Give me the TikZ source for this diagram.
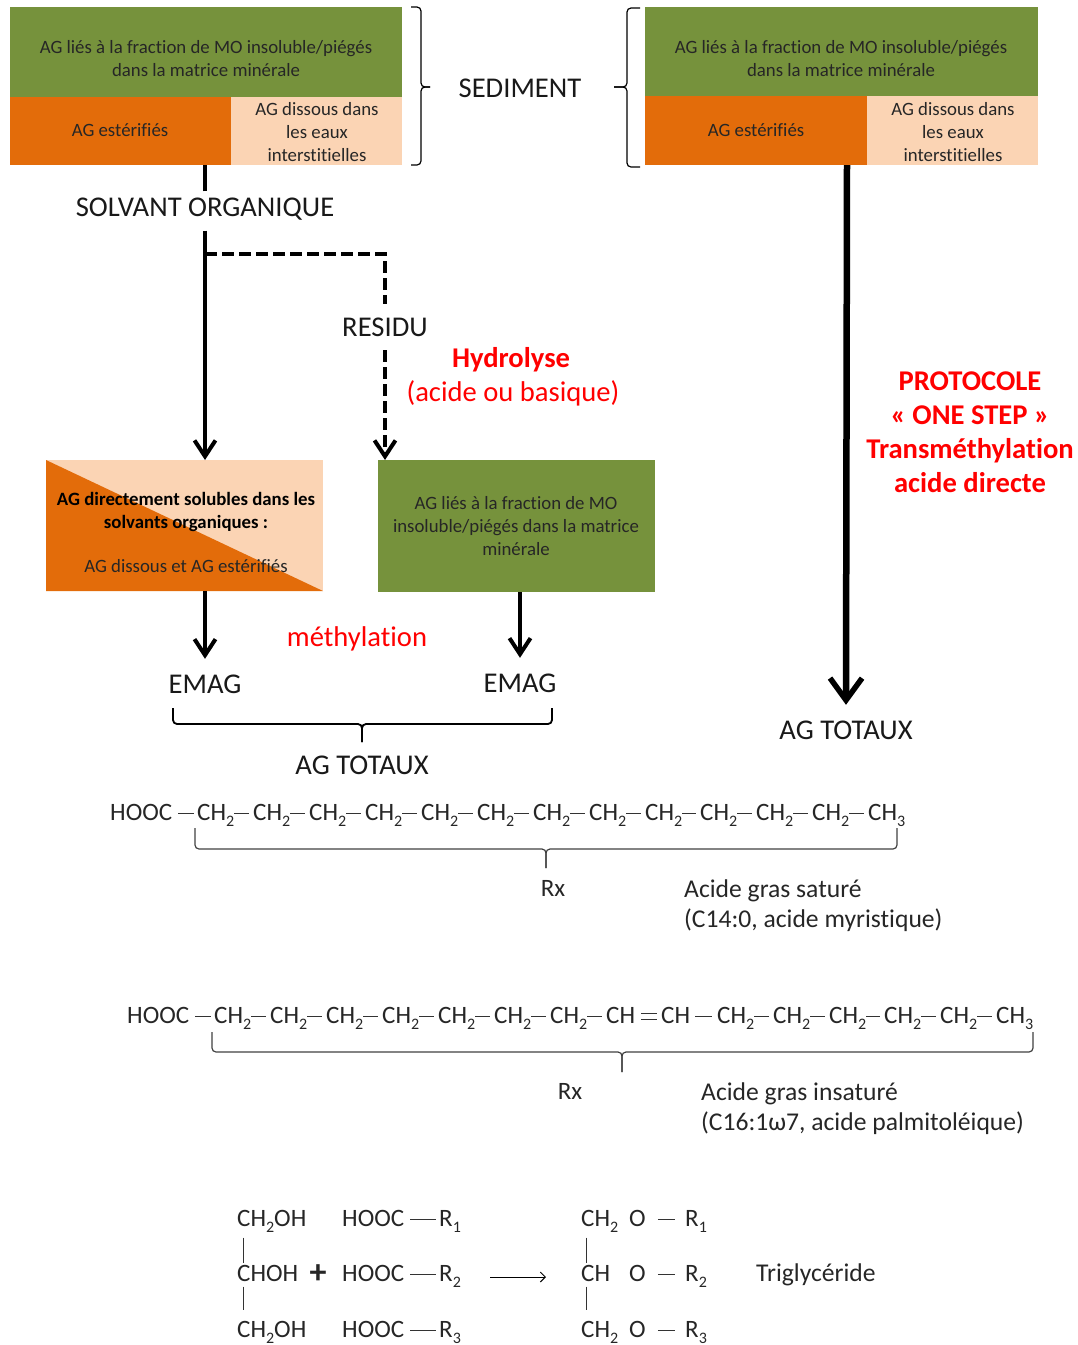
\documentclass[tikz,border=0pt]{standalone}
\usepackage{fontspec}
\setmainfont{Carlito}[Ligatures=NoCommon]
\usepackage{xcolor}
\usetikzlibrary{arrows.meta,calc}
\definecolor{vertmo}{HTML}{76923C}
\definecolor{orangeag}{HTML}{E36C0A}
\definecolor{pecheag}{HTML}{FBD4B4}
\newcommand{\bas}[1]{\raisebox{-6pt}{\fontsize{16}{16}\selectfont #1}}

\begin{document}
\begin{tikzpicture} [
       x=1pt, y=-1pt,
       boite/.style={inner sep=0pt, outer sep=0pt, anchor=north west},
       vertbox/.style={boite, fill=vertmo},
       orangebox/.style={boite, fill=orangeag},
       pechebox/.style={boite, fill=pecheag},
       texte/.style={align=center, inner sep=0pt, text=black!85, font=\fontsize{18.8}{23}\selectfont},
       grand/.style={align=center, inner sep=0pt, text=black!90, font=\fontsize{28.6}{34}\selectfont},
       rouge/.style={grand, text=red},
       chimie/.style={anchor=west, inner sep=0pt, text height=20pt, text depth=5pt, text=black!85, font=\fontsize{25}{28}\selectfont},
       nom/.style={anchor=north west, inner sep=0pt, align=left, text=black!85, font=\fontsize{25.6}{30}\selectfont},
       liaison/.style={draw, line width=1pt, black!80},
       accolade/.style={draw, rounded corners=4pt, line width=1.2pt},
       line/.style={draw, line width=4pt, -{Straight Barb[length=16pt,width=21pt,line width=4pt]}},
       tirets/.style={draw, line width=4pt, dash pattern=on 12pt off 5pt},
       trait/.style={draw, line width=4pt},
       ]
       \useasboundingbox (0,0) rectangle (1078,1345);
       % sediment, left
       \node (ligA) [vertbox, minimum width=392pt, minimum height=90pt] at (10,7) {};
       \node (estA) [orangebox, minimum width=221pt, minimum height=68pt] at (10,97) {};
       \node (disA) [pechebox, minimum width=171pt, minimum height=68pt] at (231,97) {};
       \node [texte] at (206,59) {AG liés à la fraction de MO insoluble/piégés\\dans la matrice minérale};
       \node [texte] at (120,130) {AG estérifiés};
       \node [texte] at (317,132) {AG dissous dans\\les eaux\\interstitielles};
       % sediment, right
       \node (ligB) [vertbox, minimum width=393pt, minimum height=89pt] at (645,7) {};
       \node (estB) [orangebox, minimum width=222pt, minimum height=69pt] at (645,96) {};
       \node (disB) [pechebox, minimum width=171pt, minimum height=69pt] at (867,96) {};
       \node [texte] at (841,59) {AG liés à la fraction de MO insoluble/piégés\\dans la matrice minérale};
       \node [texte] at (756,130) {AG estérifiés};
       \node [texte] at (953,132) {AG dissous dans\\les eaux\\interstitielles};
       \node (sediment) [grand] at (520,88) {SEDIMENT};
       % accolades
       \coordinate (hautG) at (411,7);
       \coordinate (basG) at (411,165);
       \coordinate (milG) at (421,87);
       \coordinate (boutG) at (430,87);
       \path[accolade] (hautG) -- (hautG -| milG) -- (milG) -- (boutG);
       \path[accolade] (basG) -- (basG -| milG) -- (milG) -- (boutG);
       \coordinate (hautD) at (640,8);
       \coordinate (basD) at (640,167);
       \coordinate (milD) at (627,87);
       \coordinate (boutD) at (614,87);
       \path[accolade] (hautD) -- (hautD -| milD) -- (milD) -- (boutD);
       \path[accolade] (basD) -- (basD -| milD) -- (milD) -- (boutD);
       % solvant
       \node (solvant) [grand, minimum height=39pt] at (205,211) {};
       \node [grand] at (205,209) {SOLVANT ORGANIQUE};
       \node (residu) [grand, minimum height=46pt] at (385,327) {RESIDU};
       \node (mixte) [boite, fill=pecheag, minimum width=277pt, minimum height=131pt] at (46,460) {};
       \fill[orangeag] (mixte.north west) -- (mixte.south east) -- (mixte.south west) -- cycle;
       \node [texte, text=black] at (186,511.5) {\textbf{AG directement solubles dans les}\\\textbf{solvants organiques :}};
       \node [texte] at (186,566) {AG dissous et AG estérifiés};
       \node (ligC) [vertbox, minimum width=277pt, minimum height=132pt] at (378,460) {};
       \node [texte] at (516,526.5) {AG liés à la fraction de MO\\insoluble/piégés dans la matrice\\minérale};
       \node [rouge] at (511,360) {\textbf{Hydrolyse}};
       \node [rouge] at (513,393) {(acide ou basique)};
       \node [rouge] at (357,639) {méthylation};
       \node [rouge] at (970,432.5) {\textbf{PROTOCOLE}\\\textbf{« ONE STEP »}\\\textbf{Transméthylation}\\\textbf{acide directe}};
       \node (emagA) [grand, minimum height=50pt] at (205,684) {EMAG};
       \node (emagB) [grand, minimum height=50pt] at (520,683) {EMAG};
       \node (totauxA) [grand] at (362,765) {AG TOTAUX};
       \node (totauxB) [grand, minimum height=50pt] at (846,730) {AG TOTAUX};
       \coordinate (branche) at (205,254);
       \coordinate (coude) at (385,254);
       % fleches
       \path[trait] (solvant.north) -- (solvant.north |- estA.south);
       \path[line] (solvant.south) -- (solvant.south |- mixte.north);
       \path[tirets] (branche) -- (coude) -- (residu.north);
       \path[tirets, -{Straight Barb[length=16pt,width=21pt,line width=4pt]}] (residu.south) -- (residu.south |- ligC.north);
       \path[line] (emagA.north |- mixte.south) -- (emagA.north);
       \path[line] (emagB.north |- ligC.south) -- (emagB.north);
       \path[draw, line width=6.5pt, -{Straight Barb[length=22pt,width=32pt,line width=5.5pt]}] ([xshift=1pt]totauxB.north |- estB.south) -- (totauxB.north);
       % accolade des EMAG
       \coordinate (emagG) at (173,708);
       \coordinate (emagD) at (552,708);
       \coordinate (emagM) at (362,724);
       \coordinate (emagT) at (362,742);
       \path[accolade, line width=1.8pt] (emagG) -- (emagG |- emagM) -- (emagM) -- (emagT);
       \path[accolade, line width=1.8pt] (emagD) -- (emagD |- emagM) -- (emagM) -- (emagT);
       % acide gras sature
       \node (hoocA) [chimie] at (110,813) {HOOC};
       \foreach \xpos [count=\i] in {197,253,309,365,421,477,533,589,645,700,756,812} {
               \node (satur\i) [chimie] at (\xpos,813) {CH\bas{2}};
       }
       \node (satur13) [chimie] at (868,813) {CH\bas{3}};
       \path[liaison] ([xshift=6pt]hoocA.east) -- ([xshift=-3pt]satur1.west);
       \foreach \i [evaluate=\i as \j using int(\i+1)] in {1,...,12} {
               \path[liaison] (satur\i.east) -- ([xshift=-4pt]satur\j.west);
       }
       \coordinate (saturG) at (195,828);
       \coordinate (saturD) at (897,828);
       \coordinate (saturM) at (546,849);
       \coordinate (saturT) at (546,868);
       \path[accolade, black!75] (saturG) -- (saturG |- saturM) -- (saturM) -- (saturT);
       \path[accolade, black!75] (saturD) -- (saturD |- saturM) -- (saturM) -- (saturT);
       \node (rxA) [chimie, anchor=center] at (553,889) {Rx};
       \node (nomA) [nom] at (684,880) {Acide gras saturé\\(C14:0, acide myristique)};
       % acide gras insature
       \node (hoocB) [chimie] at (127,1016) {HOOC};
       \foreach \xpos [count=\i] in {214,270,326,382,438,494,550} {
               \node (insat\i) [chimie] at (\xpos,1016) {CH\bas{2}};
       }
       \node (insat8) [chimie] at (606,1016) {CH};
       \node (insat9) [chimie] at (661,1016) {CH};
       \foreach \xpos [count=\i from 10] in {717,773,829,884,940} {
               \node (insat\i) [chimie] at (\xpos,1016) {CH\bas{2}};
       }
       \node (insat15) [chimie] at (996,1016) {CH\bas{3}};
       \path[liaison] ([xshift=6pt]hoocB.east) -- ([xshift=-3pt]insat1.west);
       \foreach \i [evaluate=\i as \j using int(\i+1)] in {1,...,7,10,11,12,13,14} {
               \path[liaison] (insat\i.east) -- ([xshift=-4pt]insat\j.west);
       }
       \path[liaison] ([xshift=6pt,yshift=-3pt]insat8.east) -- ([xshift=-4pt,yshift=-3pt]insat9.west);
       \path[liaison] ([xshift=6pt,yshift=3pt]insat8.east) -- ([xshift=-4pt,yshift=3pt]insat9.west);
       \path[liaison] ([xshift=5pt]insat9.east) -- ([xshift=-5pt]insat10.west);
       \coordinate (insatG) at (212,1032);
       \coordinate (insatD) at (1033,1032);
       \coordinate (insatM) at (622,1052);
       \coordinate (insatT) at (622,1072);
       \path[accolade, black!75] (insatG) -- (insatG |- insatM) -- (insatM) -- (insatT);
       \path[accolade, black!75] (insatD) -- (insatD |- insatM) -- (insatM) -- (insatT);
       \node (rxB) [chimie, anchor=center] at (570,1092) {Rx};
       \node (nomB) [nom] at (701,1083) {Acide gras insaturé\\(C16:1ω7, acide palmitoléique)};
       % glycerol + acides
       \node (glyA) [chimie] at (237,1219) {CH\bas{2}OH};
       \node (glyB) [chimie] at (237,1274) {CHOH};
       \node (glyC) [chimie] at (237,1330) {CH\bas{2}OH};
       \foreach \i/\yrow in {1/1219,2/1274,3/1330} {
               \node (acid\i) [chimie] at (342,\yrow) {HOOC};
               \node (radA\i) [chimie] at (439,\yrow) {R\bas{\i}};
               \path[liaison] ([xshift=6pt]acid\i.east) -- ([xshift=-3pt]radA\i.west);
       }
       \node (plus) [chimie, anchor=center, text height=, text depth=, font=\fontsize{34}{34}\bfseries\selectfont] at (318,1274) {+};
       \coordinate (flecheA) at (490,1277);
       \coordinate (flecheB) at (546,1277);
       \path[draw, line width=1pt, -{Straight Barb[length=5pt,width=10pt]}] (flecheA) -- (flecheB);
       % triglyceride
       \node (triA) [chimie] at (581,1219) {CH\bas{2}};
       \node (triB) [chimie] at (581,1274) {CH};
       \node (triC) [chimie] at (581,1330) {CH\bas{2}};
       \foreach \i/\yrow in {1/1219,2/1274,3/1330} {
               \node (oxy\i) [chimie] at (629,\yrow) {O};
               \node (radB\i) [chimie] at (685,\yrow) {R\bas{\i}};
               \path[liaison] ([xshift=12pt]oxy\i.east) -- ([xshift=-10pt]radB\i.west);
       }
       \node (trigly) [chimie, font=\fontsize{25.6}{28}\selectfont] at (756,1274) {Triglycéride};
       \path[liaison] ([xshift=6pt,yshift=-6pt]glyA.south west) -- ++(0,25);
       \path[liaison] ([xshift=6pt]glyB.south west) -- ++(0,23);
       \path[liaison] ([xshift=5pt,yshift=-6pt]triA.south west) -- ++(0,25);
       \path[liaison] ([xshift=5pt]triB.south west) -- ++(0,23);
\end{tikzpicture}
\end{document}
